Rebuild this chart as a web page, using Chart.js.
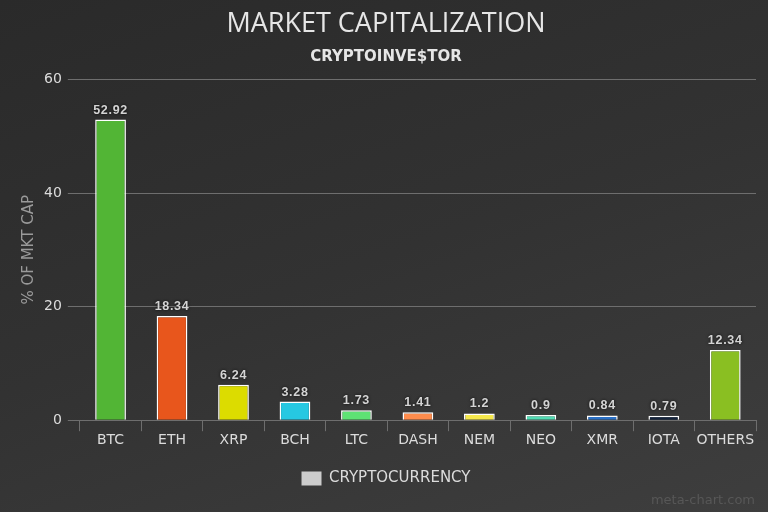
<!DOCTYPE html>
<html>
<head>
<meta charset="utf-8">
<script src="https://cdn.jsdelivr.net/npm/chart.js@4"></script>
<style>
  html, body { margin: 0; padding: 0; }
  body {
    width: 768px; height: 512px; overflow: hidden;
    background: linear-gradient(160deg, #2a2a2a 0%, #323232 50%, #3e3e3e 100%);
  }
  #wrap { width: 768px; height: 512px; }
</style>
</head>
<body>
<div id="wrap"><canvas id="capChart" width="768" height="512"></canvas></div>
<script>
const coins = ['BTC', 'ETH', 'XRP', 'BCH', 'LTC', 'DASH', 'NEM', 'NEO', 'XMR', 'IOTA', 'OTHERS'];
const marketShare = [52.92, 18.34, 6.24, 3.28, 1.73, 1.41, 1.2, 0.9, 0.84, 0.79, 12.34];
const barColors = ['#52b535', '#e8561c', '#dcdc00', '#26c8e2', '#5ee274', '#ff8c4c',
  '#f6e94c', '#52dcb4', '#2a70c6', '#15243d', '#8abf22'];
const yTicks = [0, 20, 40, 60];

const FONT = '"DejaVu Sans", sans-serif';

// value labels above each bar
const barValues = {
  id: 'barValues',
  afterDatasetsDraw(chart) {
    const ctx = chart.ctx;
    const meta = chart.getDatasetMeta(0);
    ctx.save();
    ctx.font = 'bold 12.5px "Liberation Sans", Arial, sans-serif';
    ctx.letterSpacing = '0.7px';
    ctx.textAlign = 'center';
    ctx.textBaseline = 'alphabetic';
    ctx.fillStyle = '#d4d4d4';
    ctx.shadowColor = 'rgba(0,0,0,0.8)';
    ctx.shadowBlur = 3;
    meta.data.forEach((bar, i) => {
      ctx.fillText(String(marketShare[i]), bar.x, bar.y - 6);
    });
    ctx.restore();
  }
};

const watermark = {
  id: 'watermark',
  afterDraw(chart) {
    const ctx = chart.ctx;
    ctx.save();
    ctx.font = '13px ' + FONT;
    ctx.fillStyle = '#575757';
    ctx.textAlign = 'right';
    ctx.textBaseline = 'middle';
    ctx.fillText('meta-chart.com', 755, 501);
    ctx.restore();
  }
};

new Chart(document.getElementById('capChart'), {
  type: 'bar',
  data: {
    labels: coins,
    datasets: [{
      label: 'CRYPTOCURRENCY',
      data: marketShare,
      backgroundColor: barColors,
      borderColor: '#ffffff',
      borderWidth: 1.5,
      barPercentage: 0.5,
      categoryPercentage: 1.0,
    }],
  },
  options: {
    responsive: false,
    animation: false,
    layout: { padding: { left: 16, right: 12, top: 0, bottom: 16 } },
    scales: {
      y: {
        min: 0,
        max: 60,
        afterBuildTicks: (axis) => { axis.ticks = yTicks.map((v) => ({ value: v })); },
        border: { display: false },
        grid: { color: '#6e6e6e', tickLength: 12, lineWidth: 1 },
        ticks: { color: '#dcdcdc', font: { family: FONT, size: 14 }, padding: 6 },
        title: {
          display: true,
          text: '% OF MKT CAP',
          color: '#9a9a9a',
          font: { family: FONT, size: 15 },
          padding: { top: 4, bottom: 0 },
        },
      },
      x: {
        border: { display: false },
        grid: { offset: true, drawOnChartArea: false, color: '#6e6e6e', tickLength: 11 },
        ticks: { color: '#dcdcdc', font: { family: FONT, size: 14 }, padding: 1, maxRotation: 0 },
        afterFit: (axis) => { axis.height += 11; },
      },
    },
    plugins: {
      title: {
        display: true,
        text: 'MARKET CAPITALIZATION',
        color: '#e6e6e6',
        font: { family: '"Open Sans", sans-serif', size: 27, weight: 'normal' },
        padding: { top: 8, bottom: 8 },
      },
      subtitle: {
        display: true,
        text: 'CRYPTOINVE$TOR',
        color: '#e6e6e6',
        font: { family: FONT, size: 15, weight: 'bold' },
        padding: { top: 0, bottom: 13 },
      },
      legend: {
        position: 'bottom',
        labels: {
          color: '#dcdcdc',
          font: { family: FONT, size: 15 },
          boxWidth: 20,
          boxHeight: 14,
          padding: 10,
          generateLabels: () => [{
            text: 'CRYPTOCURRENCY',
            fillStyle: '#cccccc',
            strokeStyle: '#cccccc',
            lineWidth: 0,
            fontColor: '#dcdcdc',
            hidden: false,
            datasetIndex: 0,
          }],
        },
      },
      tooltip: { enabled: false },
    },
  },
  plugins: [barValues, watermark],
});
</script>
</body>
</html>
